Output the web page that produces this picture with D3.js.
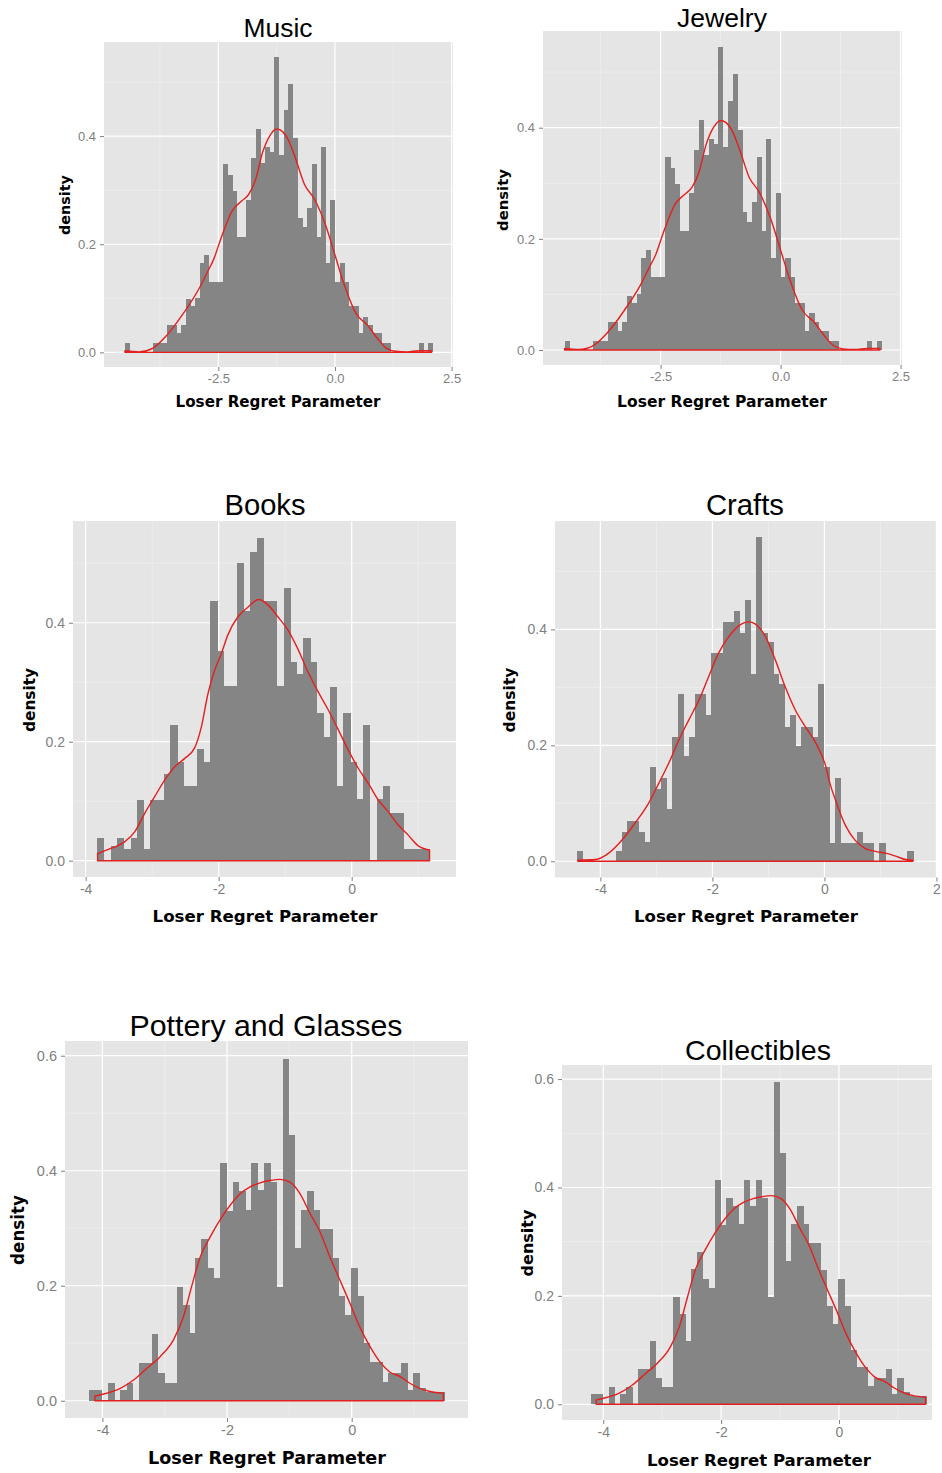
<!DOCTYPE html>
<html>
<head>
<meta charset="utf-8">
<script src="https://d3js.org/d3.v7.min.js"></script>
<style>
  body { margin: 0; background: #ffffff; }
  svg { display: block; }
</style>
</head>
<body>
<svg id="chart" width="942" height="1473"></svg>
<script>
// every histogram uses the same bin width
var binWidth = 0.1;

// Music: density per bin, first bin starts at -4.5
var musicStart = -4.5;
var musicDensity = [0.017, 0, 0, 0, 0, 0, 0.017, 0.017, 0.017, 0.05, 0.05, 0.035, 0.05, 0.098, 0.085, 0.10,
  0.166, 0.18, 0.131, 0.131, 0.131, 0.348, 0.328, 0.298, 0.214, 0.214, 0.282, 0.36, 0.413, 0.35, 0.38, 0.37,
  0.546, 0.365, 0.448, 0.496, 0.396, 0.248, 0.231, 0.267, 0.348, 0.214, 0.379, 0.166, 0.282, 0.131, 0.165, 0.131,
  0.085, 0.085, 0.035, 0.066, 0.05, 0.035, 0.035, 0.017, 0.017, 0, 0, 0, 0, 0, 0, 0.017, 0, 0.017];
var musicCurveX = [-4.5, -4.2, -3.9, -3.6, -3.25, -2.9, -2.75, -2.6, -2.43, -2.2, -2.0, -1.85, -1.7, -1.55, -1.4, -1.25,
  -1.15, -1.0, -0.85, -0.65, -0.45, -0.2, 0.0, 0.2, 0.45, 0.7, 0.9, 1.1, 1.3, 1.55, 1.8, 2.07];
var musicCurveY = [0.003, 0.001, 0.008, 0.032, 0.072, 0.12, 0.146, 0.172, 0.214, 0.262, 0.28, 0.292, 0.32, 0.37, 0.40, 0.413,
  0.41, 0.393, 0.36, 0.31, 0.285, 0.235, 0.18, 0.125, 0.072, 0.05, 0.027, 0.008, 0.002, 0.001, 0.003, 0.003];

// Jewelry
var jewelryStart = -4.5;
var jewelryDensity = [0.017, 0, 0, 0, 0, 0, 0.017, 0.017, 0.017, 0.05, 0.05, 0.035, 0.05, 0.098, 0.085, 0.10,
  0.166, 0.18, 0.131, 0.131, 0.131, 0.348, 0.328, 0.298, 0.214, 0.214, 0.282, 0.36, 0.413, 0.35, 0.38, 0.37,
  0.546, 0.365, 0.448, 0.496, 0.396, 0.248, 0.231, 0.267, 0.348, 0.214, 0.379, 0.166, 0.282, 0.131, 0.165, 0.131,
  0.085, 0.085, 0.035, 0.066, 0.05, 0.035, 0.035, 0.017, 0.017, 0, 0, 0, 0, 0, 0, 0.017, 0, 0.017];
var jewelryCurveX = [-4.5, -4.2, -3.9, -3.6, -3.25, -2.9, -2.75, -2.6, -2.43, -2.2, -2.0, -1.85, -1.7, -1.55, -1.4, -1.25,
  -1.15, -1.0, -0.85, -0.65, -0.45, -0.2, 0.0, 0.2, 0.45, 0.7, 0.9, 1.1, 1.3, 1.55, 1.8, 2.07];
var jewelryCurveY = [0.003, 0.001, 0.008, 0.032, 0.072, 0.12, 0.146, 0.172, 0.214, 0.262, 0.28, 0.292, 0.32, 0.37, 0.40, 0.413,
  0.41, 0.393, 0.36, 0.31, 0.285, 0.235, 0.18, 0.125, 0.072, 0.05, 0.027, 0.008, 0.002, 0.001, 0.003, 0.003];

// Books
var booksStart = -3.825;
var booksDensity = [0.0375, 0, 0.025, 0.0375, 0.02, 0.0375, 0.102, 0.02, 0.102, 0.102, 0.146, 0.228, 0.166, 0.125,
  0.125, 0.187, 0.166, 0.437, 0.353, 0.294, 0.294, 0.501, 0.42, 0.519, 0.543, 0.437, 0.437, 0.294, 0.458, 0.334,
  0.314, 0.374, 0.334, 0.249, 0.208, 0.292, 0.125, 0.249, 0.166, 0.103, 0.228, 0, 0.103, 0.125, 0.081, 0.081,
  0.019, 0.019, 0.019, 0.019];
var booksCurveX = [-3.82, -3.61, -3.41, -3.26, -3.11, -2.96, -2.81, -2.66, -2.51, -2.36, -2.26, -2.16, -2.06, -1.96,
  -1.86, -1.71, -1.56, -1.40, -1.26, -1.11, -0.96, -0.81, -0.66, -0.51, -0.36, -0.21, -0.06, 0.10, 0.25, 0.40,
  0.55, 0.70, 0.85, 1.00, 1.17];
var booksCurveY = [0.012, 0.021, 0.032, 0.049, 0.08, 0.108, 0.136, 0.158, 0.172, 0.19, 0.225, 0.281, 0.32, 0.348,
  0.38, 0.41, 0.426, 0.439, 0.43, 0.41, 0.388, 0.356, 0.318, 0.285, 0.255, 0.222, 0.188, 0.155, 0.13, 0.102,
  0.082, 0.06, 0.043, 0.025, 0.018];

// Crafts
var craftsStart = -4.417;
var craftsDensity = [0.018, 0, 0, 0, 0, 0, 0, 0.018, 0.051, 0.07, 0.07, 0.051, 0.033, 0.162, 0.124, 0.143, 0.09,
  0.214, 0.288, 0.182, 0.214, 0.288, 0.288, 0.252, 0.359, 0.359, 0.413, 0.413, 0.432, 0.393, 0.451, 0.323, 0.559,
  0.393, 0.378, 0.323, 0.305, 0.231, 0.252, 0.198, 0.231, 0.231, 0.214, 0.305, 0.162, 0.032, 0.143, 0.032, 0.032,
  0.032, 0.051, 0.032, 0.032, 0, 0.032, 0, 0, 0, 0, 0.018];
var craftsCurveX = [-4.40, -4.09, -3.85, -3.61, -3.38, -3.14, -2.96, -2.78, -2.60, -2.42, -2.24, -2.07, -1.89, -1.71,
  -1.53, -1.35, -1.23, -1.05, -0.875, -0.70, -0.52, -0.34, -0.16, 0.02, 0.10, 0.20, 0.375, 0.55, 0.73, 0.91, 1.09,
  1.27, 1.45, 1.58];
var craftsCurveY = [0.002, 0.003, 0.014, 0.037, 0.066, 0.1, 0.134, 0.169, 0.209, 0.244, 0.278, 0.318, 0.359, 0.387,
  0.406, 0.413, 0.409, 0.387, 0.347, 0.301, 0.261, 0.232, 0.205, 0.165, 0.134, 0.105, 0.062, 0.036, 0.022, 0.017,
  0.014, 0.009, 0.003, 0.002];

// Pottery and Glasses
var potteryStart = -4.21;
var potteryDensity = [0.019, 0.019, 0, 0.031, 0, 0.019, 0.031, 0, 0.066, 0.066, 0.116, 0.049, 0.031, 0.031, 0.198,
  0.166, 0.117, 0.249, 0.281, 0.231, 0.214, 0.414, 0.33, 0.381, 0.365, 0.332, 0.414, 0.366, 0.414, 0.381, 0.198,
  0.595, 0.463, 0.265, 0.332, 0.365, 0.332, 0.298, 0.298, 0.248, 0.182, 0.149, 0.231, 0.182, 0.1, 0.068, 0.068,
  0.033, 0.049, 0.049, 0.066, 0.019, 0.049, 0.022, 0.016, 0.016, 0.016];
var potteryCurveX = [-4.12, -3.93, -3.72, -3.50, -3.29, -3.07, -2.86, -2.70, -2.57, -2.43, -2.27, -2.11, -1.95, -1.79,
  -1.63, -1.47, -1.31, -1.15, -0.99, -0.83, -0.67, -0.51, -0.35, -0.19, -0.03, 0.13, 0.29, 0.45, 0.61, 0.78, 0.94,
  1.10, 1.26, 1.47];
var potteryCurveY = [0.008, 0.013, 0.021, 0.036, 0.056, 0.077, 0.106, 0.146, 0.198, 0.25, 0.285, 0.315, 0.34, 0.36,
  0.372, 0.379, 0.383, 0.385, 0.38, 0.36, 0.326, 0.294, 0.25, 0.21, 0.17, 0.128, 0.095, 0.068, 0.05, 0.042, 0.03,
  0.021, 0.016, 0.013];

// Collectibles
var collectiblesStart = -4.21;
var collectiblesDensity = [0.019, 0.019, 0, 0.031, 0, 0.019, 0.031, 0, 0.066, 0.066, 0.116, 0.049, 0.031, 0.031, 0.198,
  0.166, 0.117, 0.249, 0.281, 0.231, 0.214, 0.414, 0.33, 0.381, 0.365, 0.332, 0.414, 0.366, 0.414, 0.381, 0.198,
  0.595, 0.463, 0.265, 0.332, 0.365, 0.332, 0.298, 0.298, 0.248, 0.182, 0.149, 0.231, 0.182, 0.1, 0.068, 0.068,
  0.033, 0.049, 0.049, 0.066, 0.019, 0.049, 0.022, 0.016, 0.016, 0.016];
var collectiblesCurveX = [-4.12, -3.93, -3.72, -3.50, -3.29, -3.07, -2.86, -2.70, -2.57, -2.43, -2.27, -2.11, -1.95, -1.79,
  -1.63, -1.47, -1.31, -1.15, -0.99, -0.83, -0.67, -0.51, -0.35, -0.19, -0.03, 0.13, 0.29, 0.45, 0.61, 0.78, 0.94,
  1.10, 1.26, 1.47];
var collectiblesCurveY = [0.008, 0.013, 0.021, 0.036, 0.056, 0.077, 0.106, 0.146, 0.198, 0.25, 0.285, 0.315, 0.34, 0.36,
  0.372, 0.379, 0.383, 0.385, 0.38, 0.36, 0.326, 0.294, 0.25, 0.21, 0.17, 0.128, 0.095, 0.068, 0.05, 0.042, 0.03,
  0.021, 0.016, 0.013];

// tick values and labels
var ticks25 = [-2.5, 0, 2.5];
var ticks25Labels = ["-2.5", "0.0", "2.5"];
var minor25 = [-3.75, -1.25, 1.25];
var ticks2 = [-4, -2, 0, 2];
var ticks2Labels = ["-4", "-2", "0", "2"];
var minor2 = [-5, -3, -1, 1];
var yTicks4 = [0, 0.2, 0.4];
var yTicks6 = [0, 0.2, 0.4, 0.6];
var yMinor = [0.1, 0.3, 0.5];

var xTitle = "Loser Regret Parameter";
var yTitle = "density";

// layout of each ggplot panel as it sits in the picture
var panels = [
  { title: "Music", start: musicStart, dens: musicDensity, cx: musicCurveX, cy: musicCurveY,
    box: [104, 453, 42, 367], xDom: [-4.95, 2.53], yDom: [-0.027, 0.574],
    xt: ticks25, xtl: ticks25Labels, xm: minor25, yt: yTicks4,
    titlePos: [278, 28], titleW: 69, xlabPos: [278, 402], xlabW: 205, ylabPos: [65, 205], ylabW: 60, tickFont: 13 },
  { title: "Jewelry", start: jewelryStart, dens: jewelryDensity, cx: jewelryCurveX, cy: jewelryCurveY,
    box: [543, 902, 31, 365], xDom: [-4.95, 2.53], yDom: [-0.027, 0.574],
    xt: ticks25, xtl: ticks25Labels, xm: minor25, yt: yTicks4,
    titlePos: [722, 18], titleW: 90, xlabPos: [722, 402], xlabW: 210, ylabPos: [503, 200], ylabW: 62, tickFont: 13 },
  { title: "Books", start: booksStart, dens: booksDensity, cx: booksCurveX, cy: booksCurveY,
    box: [73, 456, 521, 877], xDom: [-4.19, 1.568], yDom: [-0.0274, 0.571],
    xt: ticks2, xtl: ticks2Labels, xm: minor2, yt: yTicks4,
    titlePos: [265, 505], titleW: 81, xlabPos: [265, 916], xlabW: 225, ylabPos: [30, 700], ylabW: 64, tickFont: 14 },
  { title: "Crafts", start: craftsStart, dens: craftsDensity, cx: craftsCurveX, cy: craftsCurveY,
    box: [555, 937, 521, 877.5], xDom: [-4.81, 2.01], yDom: [-0.028, 0.587],
    xt: ticks2, xtl: ticks2Labels, xm: minor2, yt: yTicks4,
    titlePos: [745, 505], titleW: 78, xlabPos: [746, 916], xlabW: 224, ylabPos: [510, 700], ylabW: 65, tickFont: 14 },
  { title: "Pottery and Glasses", start: potteryStart, dens: potteryDensity, cx: potteryCurveX, cy: potteryCurveY,
    box: [65, 468, 1041, 1418], xDom: [-4.6, 1.866], yDom: [-0.030, 0.6256],
    xt: ticks2, xtl: ticks2Labels, xm: minor2, yt: yTicks6,
    titlePos: [266, 1025], titleW: 273, xlabPos: [267, 1458], xlabW: 238, ylabPos: [18, 1230], ylabW: 70, tickFont: 14.5 },
  { title: "Collectibles", start: collectiblesStart, dens: collectiblesDensity, cx: collectiblesCurveX, cy: collectiblesCurveY,
    box: [562, 932, 1065, 1420], xDom: [-4.70, 1.579], yDom: [-0.029, 0.626],
    xt: ticks2, xtl: ticks2Labels, xm: minor2, yt: yTicks6,
    titlePos: [758, 1050], titleW: 146, xlabPos: [759, 1460], xlabW: 224, ylabPos: [527, 1243], ylabW: 67, tickFont: 14 }
];

var svg = d3.select("#chart");

// scale a text's font size so it spans the wanted width
function fitText(sel, target) {
  var len = sel.node().getComputedTextLength();
  var fs = parseFloat(sel.attr("font-size"));
  sel.attr("font-size", (fs * target / len).toFixed(2));
}

panels.forEach(function(p) {
  var x = d3.scaleLinear().domain(p.xDom).range([p.box[0], p.box[1]]);
  var y = d3.scaleLinear().domain(p.yDom).range([p.box[3], p.box[2]]);
  var g = svg.append("g");

  // grey panel
  g.append("rect")
    .attr("x", p.box[0]).attr("y", p.box[2])
    .attr("width", p.box[1] - p.box[0]).attr("height", p.box[3] - p.box[2])
    .attr("fill", "#e5e5e5");

  var inX = function(v) { return v >= p.xDom[0] && v <= p.xDom[1]; };
  var inY = function(v) { return v >= p.yDom[0] && v <= p.yDom[1]; };

  // minor grid
  g.selectAll(".mx").data(p.xm.filter(inX)).enter().append("line")
    .attr("x1", d => x(d)).attr("x2", d => x(d))
    .attr("y1", p.box[2]).attr("y2", p.box[3])
    .attr("stroke", "#f2f2f2").attr("stroke-width", 0.6);
  g.selectAll(".my").data(yMinor.filter(inY)).enter().append("line")
    .attr("y1", d => y(d)).attr("y2", d => y(d))
    .attr("x1", p.box[0]).attr("x2", p.box[1])
    .attr("stroke", "#f2f2f2").attr("stroke-width", 0.6);
  // major grid
  g.selectAll(".gx").data(p.xt.filter(inX)).enter().append("line")
    .attr("x1", d => x(d)).attr("x2", d => x(d))
    .attr("y1", p.box[2]).attr("y2", p.box[3])
    .attr("stroke", "#ffffff").attr("stroke-width", 1.2);
  g.selectAll(".gy").data(p.yt).enter().append("line")
    .attr("y1", d => y(d)).attr("y2", d => y(d))
    .attr("x1", p.box[0]).attr("x2", p.box[1])
    .attr("stroke", "#ffffff").attr("stroke-width", 1.2);

  // histogram bars
  var bins = p.dens.map(function(h, i) { return { x0: p.start + i * binWidth, h: h }; })
    .filter(function(b) { return b.h > 0; });
  g.selectAll(".bar").data(bins).enter().append("rect")
    .attr("x", d => x(d.x0))
    .attr("width", d => x(d.x0 + binWidth) - x(d.x0) + 0.5)
    .attr("y", d => y(d.h))
    .attr("height", d => y(0) - y(d.h))
    .attr("fill", "#858585")
    .attr("shape-rendering", "crispEdges");

  // density outline: curve plus the baseline, as geom_density draws it
  var pts = p.cx.map(function(v, i) { return [x(v), y(p.cy[i])]; });
  var curve = d3.line().curve(d3.curveMonotoneX)(pts);
  var n = p.cx.length - 1;
  var path = "M" + x(p.cx[0]) + "," + y(0) + "L" + curve.slice(1) +
    "L" + x(p.cx[n]) + "," + y(0) + "Z";
  g.append("path").attr("d", path)
    .attr("fill", "none").attr("stroke", "#e3201f").attr("stroke-width", 1.4)
    .attr("stroke-linejoin", "round");

  // axes
  var xAxis = d3.axisBottom(x).tickValues(p.xt.filter(inX))
    .tickFormat(function(d) { return p.xtl[p.xt.indexOf(d)]; })
    .tickSize(4).tickPadding(3);
  var gx = g.append("g").attr("transform", "translate(0," + p.box[3] + ")").call(xAxis);
  var yAxis = d3.axisLeft(y).tickValues(p.yt).tickFormat(d3.format(".1f"))
    .tickSize(4).tickPadding(4);
  var gy = g.append("g").attr("transform", "translate(" + p.box[0] + ",0)").call(yAxis);
  [gx, gy].forEach(function(a) {
    a.select(".domain").remove();
    a.selectAll("line").attr("stroke", "#7f7f7f");
    a.selectAll("text").attr("fill", "#7f7f7f")
      .attr("font-family", "'Liberation Sans', Arial, sans-serif")
      .attr("font-size", p.tickFont);
  });

  // titles
  var t = svg.append("text")
    .attr("x", p.titlePos[0]).attr("y", p.titlePos[1])
    .attr("text-anchor", "middle").attr("dominant-baseline", "central")
    .attr("font-family", "'Liberation Sans', Arial, sans-serif")
    .attr("font-size", 26).attr("fill", "#000")
    .text(p.title);
  fitText(t, p.titleW);

  var xl = svg.append("text")
    .attr("x", p.xlabPos[0]).attr("y", p.xlabPos[1])
    .attr("text-anchor", "middle").attr("dominant-baseline", "central")
    .attr("font-family", "'DejaVu Sans', Verdana, sans-serif")
    .attr("font-weight", "bold").attr("font-size", 15).attr("fill", "#000")
    .text(xTitle);
  fitText(xl, p.xlabW);

  var yl = svg.append("text")
    .attr("x", p.ylabPos[0]).attr("y", p.ylabPos[1])
    .attr("transform", "rotate(-90," + p.ylabPos[0] + "," + p.ylabPos[1] + ")")
    .attr("text-anchor", "middle").attr("dominant-baseline", "central")
    .attr("font-family", "'DejaVu Sans', Verdana, sans-serif")
    .attr("font-weight", "bold").attr("font-size", 15).attr("fill", "#000")
    .text(yTitle);
  fitText(yl, p.ylabW);
});
</script>
</body>
</html>
